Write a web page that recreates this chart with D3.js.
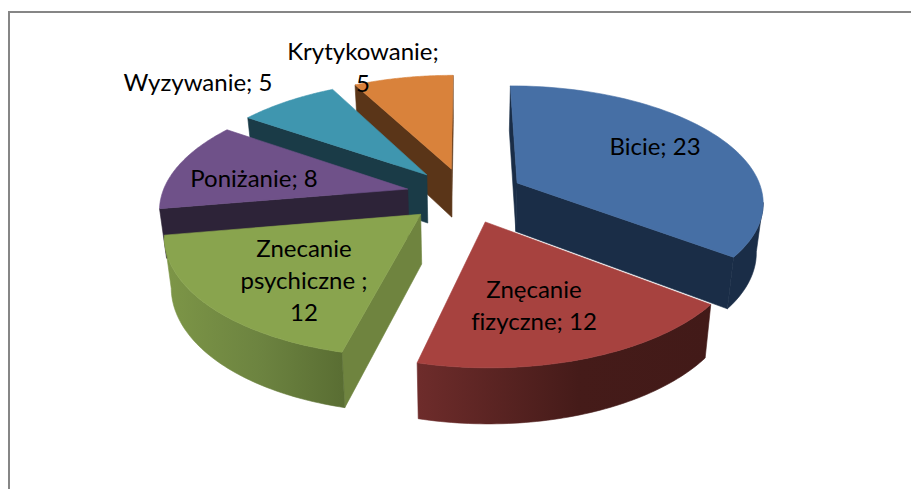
<!DOCTYPE html>
<html>
<head>
<meta charset="utf-8">
<script src="https://d3js.org/d3.v7.min.js"></script>
<style>
  html, body { margin: 0; padding: 0; background: #fff; }
  svg { display: block; }
  text { font-family: Lato, "Open Sans", sans-serif; font-size: 24px; font-variant-ligatures: none; fill: #000; text-anchor: middle; }
</style>
</head>
<body>
<div id="chart"></div>
<script>
// values
const categories = ["Bicie", "Znęcanie fizyczne", "Znecanie psychiczne", "Poniżanie", "Wyzywanie", "Krytykowanie"]
const values = [23, 12, 12, 8, 5, 5]
const labelLines = [
  ["Bicie; 23"],
  ["Znęcanie", "fizyczne; 12"],
  ["Znecanie", "psychiczne ;", "12"],
  ["Poniżanie; 8"],
  ["Wyzywanie; 5"],
  ["Krytykowanie;", "5"]
]

const svgWidth = 911
const svgHeight = 489

// slice styles, same order as categories
const topColors = ["#466fa5", "#a7423f", "#89a44e", "#6f5189", "#3f96af", "#d9823b"]
const wallColors = ["#1a2d47", "#5a2322", "#6f843f", "#2d2338", "#1a3b47", "#5a3518"]
const rimStops = [
  ["#1a2d47", "#1a2d47", "#1a2d47"],
  ["#6e2c2b", "#451b19", "#421a18"],
  ["#7d9647", "#6c8340", "#5a6e33"],
  ["#2d2338", "#2d2338", "#2d2338"],
  ["#1a3b47", "#1a3b47", "#1a3b47"],
  ["#5a3518", "#5a3518", "#5a3518"]
]
// label anchor: centre x, first baseline
const labelPos = [[655, 155], [534, 298], [304, 257], [254, 187], [198, 91], [363, 60]]
const lineHeight = 32
// back to front
const drawOrder = [5, 4, 3, 2, 0, 1]

// 3d view of the pie
const view = { cx: 465, cy: 195, a: 246, b: 115, p: 0.15, h: 49, shrink: 0.977, explode: 0.24 }

function project(u, v, bottom) {
  const w = 1 - view.p * v
  const k = bottom ? view.shrink : 1
  return [
    view.cx + view.a * u / w * k,
    view.cy + view.b * v / w * k + (bottom ? view.h / w : 0)
  ]
}

let svg = d3.select("#chart").append("svg")
  .attr("width", svgWidth)
  .attr("height", svgHeight)

// frame, only top and left show in the crop
svg.append("path")
  .attr("d", `M9,${svgHeight} V12 H${svgWidth}`)
  .attr("fill", "none")
  .attr("stroke", "#868686")
  .attr("stroke-width", 2)

let defs = svg.append("defs")
let line = d3.line()
let pie = d3.pie().sort(null).startAngle(0).endAngle(2 * Math.PI)
let arcs = pie(values)

function sliceGeometry(d) {
  const mid = (d.startAngle + d.endAngle) / 2
  const ou = view.explode * Math.sin(mid)
  const ov = -view.explode * Math.cos(mid)
  const angles = d3.range(0, 61).map(i => d.startAngle + (d.endAngle - d.startAngle) * i / 60)
  const rim = angles.map(t => [ou + Math.sin(t), ov - Math.cos(t)])
  return { apex: [ou, ov], rim }
}

// quad between two top points, with the matching points on the bottom
function wall(p, q) {
  return [project(p[0], p[1]), project(q[0], q[1]), project(q[0], q[1], true), project(p[0], p[1], true)]
}

// clockwise rim: wall faces the viewer when its top edge runs right to left
function facing(p, q) {
  return project(q[0], q[1])[0] < project(p[0], p[1])[0]
}

function addFace(group, d, fill) {
  group.append("path")
    .attr("d", d)
    .attr("fill", fill)
    .attr("stroke", fill)
    .attr("stroke-width", 0.6)
}

drawOrder.forEach(i => {
  const g = sliceGeometry(arcs[i])
  let group = svg.append("g").attr("class", "slice").attr("data-name", categories[i])
  const rim = g.rim
  const first = rim[0]
  const last = rim[rim.length - 1]

  // radial walls, only the ones turned to the viewer
  if (facing(last, g.apex)) {
    addFace(group, line(wall(last, g.apex)) + "Z", wallColors[i])
  }
  if (facing(g.apex, first)) {
    addFace(group, line(wall(g.apex, first)) + "Z", wallColors[i])
  }

  // outer wall
  const visible = rim.filter((p, j) => j < rim.length - 1 && facing(p, rim[j + 1]))
  if (visible.length) {
    visible.push(rim[rim.indexOf(visible[visible.length - 1]) + 1])
    const upper = visible.map(p => project(p[0], p[1]))
    const lower = visible.map(p => project(p[0], p[1], true)).reverse()
    const xs = d3.extent(upper, p => p[0])
    let grad = defs.append("linearGradient")
      .attr("id", "rim" + i)
      .attr("gradientUnits", "userSpaceOnUse")
      .attr("x1", xs[0]).attr("x2", xs[1])
      .attr("y1", 0).attr("y2", 0)
    grad.append("stop").attr("offset", 0).attr("stop-color", rimStops[i][0])
    grad.append("stop").attr("offset", 0.55).attr("stop-color", rimStops[i][1])
    grad.append("stop").attr("offset", 1).attr("stop-color", rimStops[i][2])
    addFace(group, line(upper.concat(lower)) + "Z", `url(#rim${i})`)
  }

  // top face
  const topFace = [g.apex].concat(rim).map(p => project(p[0], p[1]))
  addFace(group, line(topFace) + "Z", topColors[i])
})

labelLines.forEach((lines, i) => {
  let t = svg.append("text")
  lines.forEach((s, j) => {
    t.append("tspan")
      .attr("x", labelPos[i][0])
      .attr("y", labelPos[i][1] + j * lineHeight)
      .text(s)
  })
})
</script>
</body>
</html>
